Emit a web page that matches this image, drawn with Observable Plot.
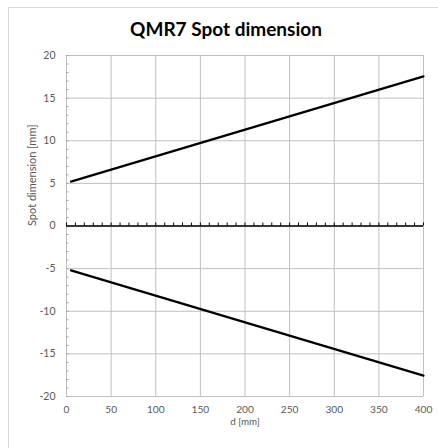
<!DOCTYPE html>
<html>
<head>
<meta charset="utf-8">
<script src="https://cdn.jsdelivr.net/npm/d3@7"></script>
<script src="https://cdn.jsdelivr.net/npm/@observablehq/plot@0.6"></script>
<style>
  html, body { margin: 0; padding: 0; background: #fff; }
  #wrap { position: relative; width: 438px; height: 448px; overflow: hidden; }
  #border { position: absolute; left: 8px; top: 7px; width: 460px; height: 470px; border: 1px solid #d9d9d9; box-sizing: border-box; }
  #title { position: absolute; left: 0; top: 18px; width: 452px; text-align: center; font-family: Lato, "Open Sans", sans-serif; font-weight: bold; font-size: 19px; color: #000; line-height: 22px; }
  #chart { position: absolute; left: 0; top: 45px; }
</style>
</head>
<body>
<div id="wrap">
  <div id="border"></div>
  <div id="title">QMR7 Spot dimension</div>
  <div id="chart"></div>
</div>
<script>
// Data
const distance = [5, 400];               // d [mm]
const upperSpot = [5.2, 17.55];          // upper edge [mm]
const lowerSpot = [-5.2, -17.55];        // lower edge [mm]

const xTicks = [0, 50, 100, 150, 200, 250, 300, 350, 400];
const yTicks = [-20, -15, -10, -5, 0, 5, 10, 15, 20];
const yMinorTicks = d3.range(-20, 21, 1);
const xMinorTicks = d3.range(0, 401, 10);
const xLabel = "d [mm]";
const yLabel = "Spot dimension [mm]";

const upper = distance.map((d, i) => ({d, v: upperSpot[i]}));
const lower = distance.map((d, i) => ({d, v: lowerSpot[i]}));

const font = 'Lato, "Open Sans", sans-serif';
const fmt = d => String(d);

const chart = Plot.plot({
  width: 438,
  height: 403,
  marginLeft: 66,
  marginRight: 15,
  marginTop: 10,
  marginBottom: 52,
  style: { fontFamily: font, fontSize: "10.5px", background: "transparent", overflow: "visible" },
  x: { domain: [0, 400] },
  y: { domain: [-20, 20] },
  marks: [
    Plot.gridX(xTicks, { stroke: "#bfbfbf", strokeOpacity: 1, strokeWidth: 1 }),
    Plot.gridY(yTicks, { stroke: "#bfbfbf", strokeOpacity: 1, strokeWidth: 1 }),
    Plot.ruleX([0], { stroke: "#bfbfbf", strokeWidth: 1 }),
    Plot.axisY(yMinorTicks, { tickSize: -2.5, text: null, stroke: "#a6a6a6", label: null }),
    Plot.axisY(yTicks, { tickSize: 0, tickPadding: 11, fontSize: 10.5, fill: "#595959", tickFormat: fmt, label: null }),
    Plot.axisX(xTicks, { tickSize: 0, tickPadding: 9.3, fontSize: 10.2, fill: "#595959", tickFormat: fmt, label: null }),
    Plot.ruleY([0], { stroke: "#000", strokeWidth: 1.5 }),
    Plot.ruleX(xMinorTicks, { x: d => d, y1: 0, y2: 0, insetTop: -3, stroke: "#000", strokeWidth: 1 }),
    Plot.line(upper, { x: "d", y: "v", stroke: "#000", strokeWidth: 2.2 }),
    Plot.line(lower, { x: "d", y: "v", stroke: "#000", strokeWidth: 2.2 }),
    Plot.text([xLabel], { text: d => d, frameAnchor: "bottom", lineAnchor: "top", dy: 21.8, fontSize: 9.8, fill: "#595959" }),
    Plot.text([yLabel], { text: d => d, frameAnchor: "left", lineAnchor: "middle", rotate: -90, dx: -34.5, fontSize: 11, fill: "#595959" })
  ]
});
document.getElementById("chart").appendChild(chart);
</script>
</body>
</html>
